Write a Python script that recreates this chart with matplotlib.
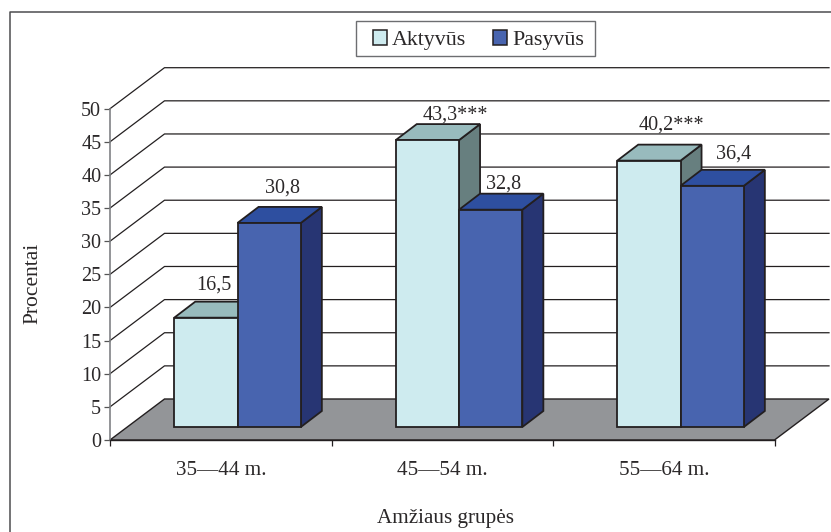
import numpy as np
import matplotlib
matplotlib.use("Agg")
import matplotlib.pyplot as plt
from matplotlib.lines import Line2D
from matplotlib.patches import Patch, Rectangle

plt.rcParams['font.family'] = ['Liberation Serif', 'DejaVu Serif']

grupes = ['35—44 m.', '45—54 m.', '55—64 m.']
aktyvus = [16.5, 43.3, 40.2]
pasyvus = [30.8, 32.8, 36.4]
aktyvus_txt = ['16,5', '43,3***', '40,2***']
pasyvus_txt = ['30,8', '32,8', '36,4']
y_ticks = [0, 5, 10, 15, 20, 25, 30, 35, 40, 45, 50]

# label shifts from bar top centre, in pixels
akt_shift = [(7.5, 33), (27.5, 25), (23, 36)]
pas_shift = [(13, 35), (12.7, 26), (21, 32)]

tekstas = '#2b2829'
linija = '#231f20'

fig = plt.figure(figsize=(8.31, 5.32), dpi=100)
ax = fig.add_axes([110 / 831, (532 - 440) / 532, 664.5 / 831, 331.3 / 532])
ax.set_xlim(0, 3)
ax.set_ylim(0, 50)
ax.patch.set_visible(False)

# depth of the fake 3d box, axis units
dx = 54.5 / 221.5
dy = 41 / 6.626
# bars stand a bit into the floor
bar_dx = 16.8 / 221.5
bar_dy = 13 / 6.626
sd_x = 21 / 221.5
sd_y = 16 / 6.626
w = 63.3 / 221.5


def poly(pts, fc, ec=linija, lw=1.3, z=3):
    ax.fill([p[0] for p in pts], [p[1] for p in pts], fc=fc, ec=ec, lw=lw,
            zorder=z, clip_on=False, joinstyle='miter')


def bar3d(x, h, front, top, side, z):
    b = bar_dy
    t = b + h
    poly([(x + w, b), (x + w + sd_x, b + sd_y), (x + w + sd_x, t + sd_y), (x + w, t)], side, z=z)
    poly([(x, t), (x + sd_x, t + sd_y), (x + w + sd_x, t + sd_y), (x + w, t)], top, z=z)
    poly([(x, b), (x + w, b), (x + w, t), (x, t)], front, z=z)


# floor
poly([(0, 0), (3, 0), (3 + dx, dy), (dx, dy)], '#939598', lw=1.0, z=1)

# back wall lines
for v in y_ticks[1:]:
    ax.plot([0, dx, 3 + dx], [v, v + dy, v + dy], color=linija, lw=0.9, zorder=2, clip_on=False)

for i in range(3):
    x0 = i + 0.5 + bar_dx - w
    bar3d(x0, aktyvus[i], '#ceebef', '#98bbbd', '#677f7f', 3 + i * 2)
    bar3d(x0 + w, pasyvus[i], '#4864af', '#2e4fa0', '#273573', 4 + i * 2)
    ax.annotate(aktyvus_txt[i], (x0 + w / 2, aktyvus[i] + bar_dy), xytext=akt_shift[i],
                textcoords='offset pixels', ha='center', va='center', fontsize=14.5,
                color=tekstas, zorder=10, annotation_clip=False)
    ax.annotate(pasyvus_txt[i], (x0 + w * 1.5, pasyvus[i] + bar_dy), xytext=pas_shift[i],
                textcoords='offset pixels', ha='center', va='center', fontsize=14.5,
                color=tekstas, zorder=10, annotation_clip=False)

# axes
ax.spines['top'].set_visible(False)
ax.spines['right'].set_visible(False)
ax.spines['left'].set_color('#808285')
ax.spines['left'].set_linewidth(1.2)
ax.spines['bottom'].set_color(linija)
ax.spines['bottom'].set_linewidth(1.0)
ax.spines['bottom'].set_zorder(2.5)

ax.set_yticks(y_ticks)
ax.tick_params(axis='y', length=4.3, width=0.9, color='#555555', pad=2, labelsize=14.5, labelcolor=tekstas)
ax.set_xticks([0, 1, 2, 3])
ax.set_xticklabels([])
ax.tick_params(axis='x', which='major', length=4.5, width=0.9, color=linija)
ax.set_xticks([0.5, 1.5, 2.5], minor=True)
ax.set_xticklabels(grupes, minor=True)
ax.tick_params(axis='x', which='minor', length=0, pad=15, labelsize=15.2, labelcolor=tekstas)

fig.text(33 / 831, 1 - 283 / 532, 'Procentai', rotation=90, ha='center', va='center',
         fontsize=15.5, color=tekstas)
fig.text(445.5 / 831, 1 - 518 / 532, 'Amžiaus grupės', ha='center', va='center',
         fontsize=15.2, color=tekstas)

# outer frame, open at right and bottom
fig.add_artist(Line2D([9.5 / 831, 9.5 / 831, 1], [0, 1 - 12 / 532, 1 - 12 / 532],
                      color='#4d4d4f', lw=1.1, transform=fig.transFigure))

# legend box drawn apart, side padding is wider than top padding
fig.add_artist(Rectangle((356 / 831, 1 - 56 / 532), 239 / 831, 35 / 532, fc='white',
                         ec='#6d6e71', lw=1.0, transform=fig.transFigure))
leg = fig.legend(handles=[Patch(fc='#ceebef', ec=linija, lw=1.1, label='Aktyvūs'),
                          Patch(fc='#4864af', ec=linija, lw=1.1, label='Pasyvūs')],
                 ncol=2, loc='center', bbox_to_anchor=(478.5 / 831, 1 - 40 / 532),
                 fontsize=15.8, frameon=False,
                 handlelength=0.64, handleheight=0.64, handletextpad=0.26, columnspacing=1.2,
                 borderpad=0, borderaxespad=0, labelcolor=tekstas)
leg.set_zorder(5)

fig.savefig('out.png', dpi=100)
